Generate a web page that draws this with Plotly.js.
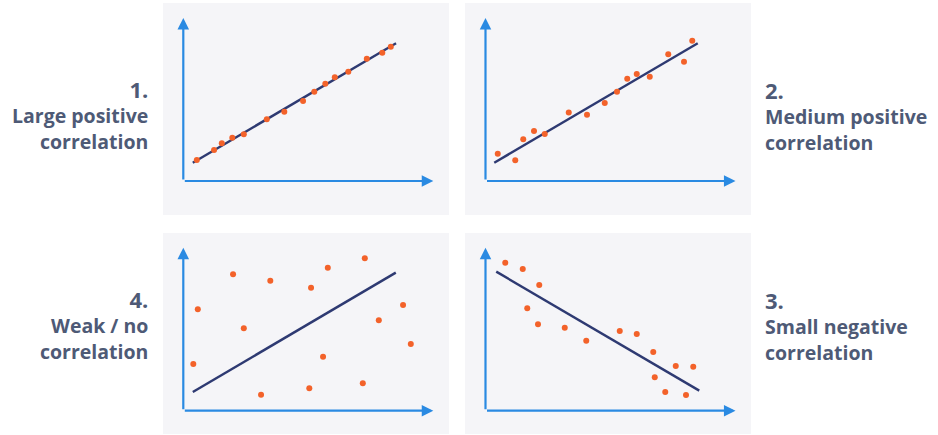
<!DOCTYPE html>
<html><head><meta charset="utf-8">
<script src="https://cdn.plot.ly/plotly-3.0.1.min.js"></script>
<style>html,body{margin:0;padding:0;background:#fff}#chart{width:938px;height:435px}</style>
</head><body><div id="chart"></div>
<script>
// ---- DATA (units: 0-100 along each drawn axis) ----
// Panel 1: Large positive correlation
const p1X = [5.4, 12.3, 15.4, 19.6, 24.2, 33.4, 40.4, 47.9, 52.4, 56.8, 60.6, 66.0, 73.4, 79.6, 83.0];
const p1Y = [12.9, 19.0, 23.1, 26.6, 28.7, 37.9, 42.5, 49.1, 54.8, 59.7, 63.6, 67.1, 75.0, 78.7, 82.4];
const p1FitX = [3.8, 85.1];
const p1FitY = [11.2, 84.5];
// Panel 2: Medium positive correlation
const p2X = [4.9, 11.9, 15.1, 19.4, 23.7, 33.3, 40.6, 47.7, 52.6, 56.7, 60.5, 65.7, 73.1, 79.4, 82.7];
const p2Y = [16.7, 12.7, 25.6, 30.7, 28.8, 42.1, 40.7, 47.9, 54.8, 62.8, 65.6, 64.0, 77.7, 73.2, 86.1];
const p2FitX = [3.5, 84.9];
const p2FitY = [11.2, 84.5];
// Panel 3: Small negative correlation
const p3X = [7.9, 14.9, 21.5, 16.7, 21.0, 31.7, 40.3, 53.7, 60.5, 67.1, 76.1, 83.1, 67.7, 71.9, 80.2];
const p3Y = [90.8, 86.9, 77.1, 62.8, 53.0, 50.9, 42.9, 48.9, 47.1, 36.0, 27.4, 27.0, 20.5, 11.5, 9.6];
const p3FitX = [4.3, 85.5];
const p3FitY = [85.3, 12.3];
// Panel 4: Weak / no correlation
const p4X = [4.0, 5.8, 19.9, 24.2, 31.1, 34.8, 50.4, 51.1, 55.9, 57.8, 71.8, 72.6, 78.2, 87.9, 91.0];
const p4Y = [28.7, 62.2, 83.7, 50.6, 9.8, 79.8, 13.7, 75.5, 33.1, 87.7, 16.8, 93.5, 55.5, 64.8, 40.9];
const p4FitX = [3.8, 85.0];
const p4FitY = [11.5, 84.7];

const panelNumbers = ['1.', '2.', '3.', '4.'];
const panelLine1 = ['Large positive', 'Medium positive', 'Small negative', 'Weak / no'];
const panelLine2 = ['correlation', 'correlation', 'correlation', 'correlation'];

// ---- STYLE / LAYOUT ----
const W = 938, H = 435;
const AXLX = 250, AXLY = 163;
const BLUE = '#2a8ae2', ORANGE = '#f3622a', NAVY = '#2e3a72', BG = '#f5f5f8', TXT = '#4e5a76';
const FONT = 'Open Sans, Noto Sans, sans-serif';
const BODY_SIZE = 19.5, NUM_SIZE = 22;

const series = [
  {xs: p1X, ys: p1Y, fx: p1FitX, fy: p1FitY},
  {xs: p2X, ys: p2Y, fx: p2FitX, fy: p2FitY},
  {xs: p3X, ys: p3Y, fx: p3FitX, fy: p3FitY},
  {xs: p4X, ys: p4Y, fx: p4FitX, fy: p4FitY}
];
// placement of each panel (pixels); ty = baseline of the number line
const place = [
  {ox: 183.3, oy: 181,   bg: [163, 3, 449, 215],   side: 'left',  tx: 148, ty: 98},
  {ox: 485.5, oy: 181,   bg: [465, 3, 751, 215],   side: 'right', tx: 765, ty: 99},
  {ox: 485.5, oy: 410.7, bg: [465, 233, 751, 434], side: 'right', tx: 765, ty: 309},
  {ox: 183.3, oy: 410.7, bg: [163, 233, 449, 434], side: 'left',  tx: 148, ty: 308}
];

const px = v => v / W;
const py = v => 1 - v / H;

const data = [];
const layout = {
  width: W, height: H,
  margin: {l: 0, r: 0, t: 0, b: 0},
  paper_bgcolor: '#ffffff',
  plot_bgcolor: 'rgba(0,0,0,0)',
  showlegend: false,
  shapes: [],
  annotations: []
};

series.forEach((s, i) => {
  const n = i === 0 ? '' : String(i + 1);
  const xa = 'x' + n, ya = 'y' + n;
  const p = place[i];
  const axBase = {range: [0, 100], showgrid: false, zeroline: false, showline: false,
                  showticklabels: false, ticks: '', fixedrange: true};
  layout['xaxis' + n] = Object.assign({}, axBase, {domain: [px(p.ox), px(p.ox + AXLX)], anchor: ya});
  layout['yaxis' + n] = Object.assign({}, axBase, {domain: [py(p.oy), py(p.oy - AXLY)], anchor: xa});

  layout.shapes.push({type: 'rect', xref: 'paper', yref: 'paper', layer: 'below',
    x0: px(p.bg[0]), x1: px(p.bg[2]), y0: py(p.bg[3]), y1: py(p.bg[1]),
    fillcolor: BG, line: {width: 0}});

  data.push({type: 'scatter', mode: 'lines', x: s.fx, y: s.fy, xaxis: xa, yaxis: ya,
    line: {color: NAVY, width: 2.4}, cliponaxis: false, hoverinfo: 'skip'});
  data.push({type: 'scatter', mode: 'markers', x: s.xs, y: s.ys, xaxis: xa, yaxis: ya,
    marker: {color: ORANGE, size: 6}, cliponaxis: false, hoverinfo: 'skip'});

  // axis arrows
  const arrowBase = {text: '', showarrow: true, arrowhead: 2, arrowsize: 1.05, arrowwidth: 2.2,
    arrowcolor: BLUE, xref: xa, yref: ya, axref: xa, ayref: ya, standoff: 0, startstandoff: 0};
  layout.annotations.push(Object.assign({}, arrowBase, {x: 100, y: 0, ax: 0, ay: 0}));
  layout.annotations.push(Object.assign({}, arrowBase, {x: 0, y: 100, ax: 0, ay: 0}));

  // label block
  const anchor = p.side === 'left' ? 'right' : 'left';
  const txt = '<span style="font-size:' + NUM_SIZE + 'px">' + panelNumbers[i] + '</span><br>' +
              panelLine1[i] + '<br>' + panelLine2[i];
  layout.annotations.push({text: txt, xref: 'paper', yref: 'paper',
    x: px(p.tx), y: py(p.ty + 16.5), xanchor: anchor, yanchor: 'middle', showarrow: false,
    align: anchor, borderpad: 0, borderwidth: 0,
    font: {family: FONT, size: BODY_SIZE, color: TXT, weight: 'bold'}});
});

Plotly.newPlot('chart', data, layout, {displayModeBar: false, staticPlot: true});
</script>
</body></html>
